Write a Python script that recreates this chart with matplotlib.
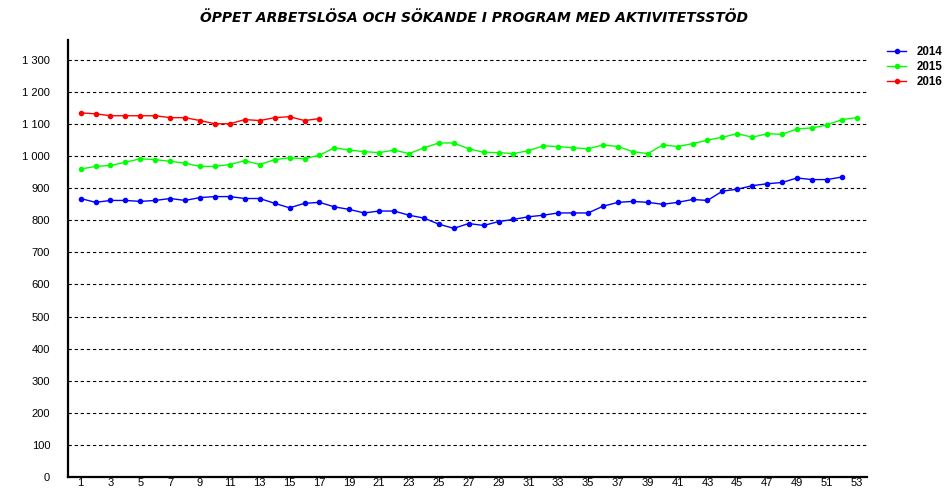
import matplotlib.pyplot as plt
import numpy as np

# weekly values
weeks = np.arange(1, 54)
y2014 = [868, 856, 862, 862, 859, 862, 868, 862, 871, 874,
         874, 868, 868, 853, 839, 853, 856, 842, 834, 823,
         829, 829, 816, 807, 788, 775, 790, 784, 796, 803,
         811, 816, 823, 823, 823, 844, 856, 859, 856, 850,
         856, 865, 862, 891, 897, 908, 914, 918, 932, 927,
         927, 935]
y2015 = [960, 968, 971, 981, 992, 989, 984, 978, 968, 968,
         974, 986, 974, 989, 995, 992, 1003, 1026, 1019, 1014,
         1011, 1019, 1008, 1026, 1041, 1041, 1023, 1012, 1011, 1008,
         1017, 1032, 1030, 1026, 1023, 1035, 1030, 1014, 1008, 1035,
         1030, 1039, 1050, 1059, 1070, 1059, 1070, 1068, 1085, 1088,
         1097, 1114, 1120]
y2016 = [1135, 1132, 1126, 1126, 1126, 1126, 1120, 1120, 1111, 1101,
         1101, 1114, 1111, 1120, 1123, 1111, 1117]

series = [("2014", y2014, "#0000ff"),
          ("2015", y2015, "#00ff00"),
          ("2016", y2016, "#ff0000")]

yticks = list(range(0, 1301, 100))
xticks = list(range(1, 54, 2))

plt.rcParams['font.family'] = ['Liberation Sans', 'DejaVu Sans']

fig = plt.figure(figsize=(9.48, 4.91), dpi=100)
ax = fig.add_axes([0.072, 0.0285, 0.8426, 0.89])

for i, (name, vals, col) in enumerate(series):
    ax.plot(weeks[:len(vals)], vals, color=col, lw=1.0, marker="o",
            markersize=3.0, label=name, zorder=3)

ax.set_xlim(0.17, 53.69)
ax.set_ylim(0, 1362)

for v in yticks[1:]:
    ax.axhline(v, color="black", lw=0.8, ls=(0, (3, 2.5)), zorder=1)

ax.set_yticks(yticks)
ax.set_yticklabels(["{:,}".format(v).replace(",", " ") for v in yticks])
ax.set_xticks(xticks)
ax.set_xticklabels([str(v) for v in xticks])
ax.tick_params(axis="both", length=0, labelsize=8.0, colors="black")
ax.tick_params(axis="y", pad=13)
ax.tick_params(axis="x", pad=1)

for s in ["top", "right"]:
    ax.spines[s].set_visible(False)
for s in ["left", "bottom"]:
    ax.spines[s].set_linewidth(1.6)
    ax.spines[s].set_color("black")

fig.text(0.5, 0.963, "ÖPPET ARBETSLÖSA OCH SÖKANDE I PROGRAM MED AKTIVITETSSTÖD",
         ha="center", va="center", fontsize=10, fontweight="bold",
         fontstyle="italic", family="DejaVu Sans")

leg = ax.legend(loc="upper left", bbox_to_anchor=(0.93, 0.918),
                bbox_transform=fig.transFigure, frameon=False,
                handlelength=1.6, handletextpad=0.9, labelspacing=0.25,
                borderpad=0, prop={"weight": "bold", "size": 8.3})

fig.savefig("out.png", dpi=100)
